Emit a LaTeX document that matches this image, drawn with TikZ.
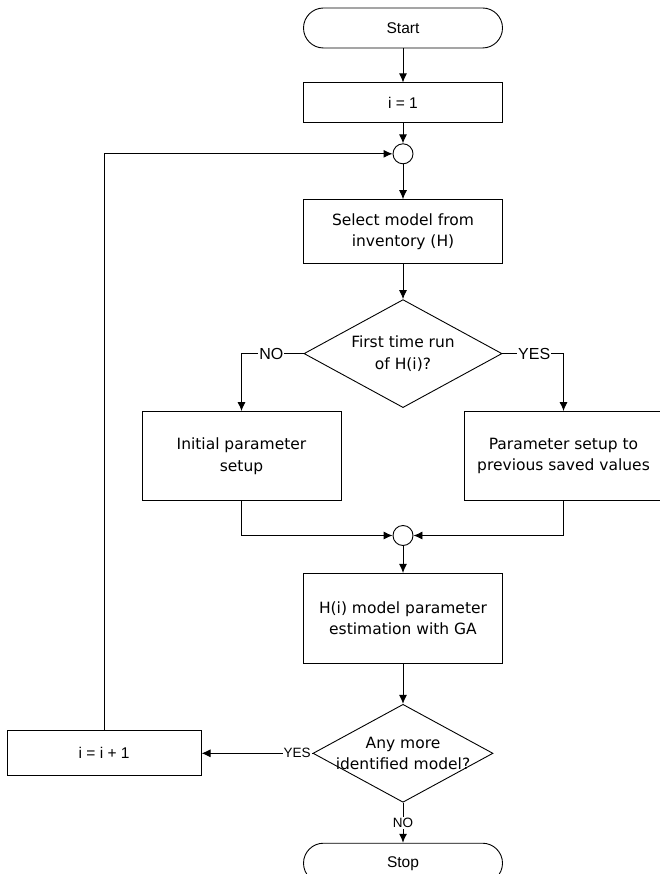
\documentclass[tikz,border=0pt]{standalone}
\usepackage{fontspec}
\setmainfont{DejaVu Sans}
\newfontfamily\arialfont{Liberation Sans}
\usetikzlibrary{positioning}
\usetikzlibrary{shapes.geometric}
\usetikzlibrary{arrows.meta}

\begin{document}
\begin{tikzpicture}[
            node distance=35pt and 35pt,
            >={Latex[length=9pt,width=8pt]},
            line width=0.9pt,
            process/.style={
                rectangle,
                draw,
                minimum width=199pt,
                minimum height=#1,
                inner sep=2pt,
                align=center,
                font=\fontsize{15.5}{21.5}\selectfont
            },
            terminal/.style={
                rectangle,
                rounded corners=20pt,
                draw,
                minimum width=199pt,
                minimum height=40pt,
                font=\arialfont\fontsize{15.5}{18}\selectfont
            },
            decision/.style 2 args={
                diamond,
                draw,
                aspect=1.83,
                inner sep=-6pt,
                minimum width=#1,
                minimum height=#2,
                align=center,
                font=\fontsize{15.5}{21.5}\selectfont
            },
            joint/.style={circle, draw, minimum size=20pt, inner sep=0pt},
            tag/.style={fill=white, inner sep=1pt, font=\arialfont\fontsize{#1}{#1}\selectfont}
        ]
            \useasboundingbox (0,0) rectangle (659pt,-874pt);

            % Nodes
            \node[terminal] (start) at (403pt,-28pt) {Start};

            \node[process=40pt, font=\arialfont\fontsize{15.5}{18}\selectfont, below=34pt of start] (setone) {i = 1};

            \node[joint, below=20pt of setone] (loopjoin) {};

            \node[process=64pt, below=35pt of loopjoin] (select) {Select model from\\inventory (H)};

            \node[decision={198pt}{108pt}, below=35pt of select] (firstrun) {First time run\\of H(i)?};

            \node[process=89pt, below=3pt of firstrun.south, xshift=-161.5pt] (initial) {Initial parameter\\setup};

            \node[process=89pt, below=3pt of firstrun.south, xshift=160.5pt] (saved) {Parameter setup to\\previous saved values};

            \node[joint, below=117pt of firstrun.south] (mergejoin) {};

            \node[process=90pt, below=27pt of mergejoin] (estimate) {H(i) model parameter\\estimation with GA};

            \node[decision={180pt}{98pt}, below=40pt of estimate] (anymore) {Any more\\identified model?};

            \node[terminal, below=40pt of anymore] (stop) {Stop};

            \node[process=45pt, minimum width=194pt, font=\arialfont\fontsize{15.5}{18}\selectfont, left=111pt of anymore] (increment) {i = i + 1};

            % Arrows
            \draw[->] (start) -- (setone);
            \draw[->] (setone) -- (loopjoin);
            \draw[->] (loopjoin) -- (select);
            \draw[->] (select) -- (firstrun);
            \draw[->] (firstrun.west) -| node[tag=16, pos=0.26] {NO} (initial.north);
            \draw[->] (firstrun.east) -| node[tag=16, pos=0.26] {YES} (saved.north);
            \draw[->] (initial.south) |- (mergejoin.west);
            \draw[->] (saved.south) |- (mergejoin.east);
            \draw[->] (mergejoin) -- (estimate);
            \draw[->] (estimate) -- (anymore);
            \draw[->] (anymore.west) -- node[tag=13.5, pos=0.14] {YES} (increment.east);
            \draw[->] (anymore.south) -- node[tag=13.5] {NO} (stop.north);
            \draw[->] (increment.north) |- (loopjoin.west);
        \end{tikzpicture}
\end{document}
